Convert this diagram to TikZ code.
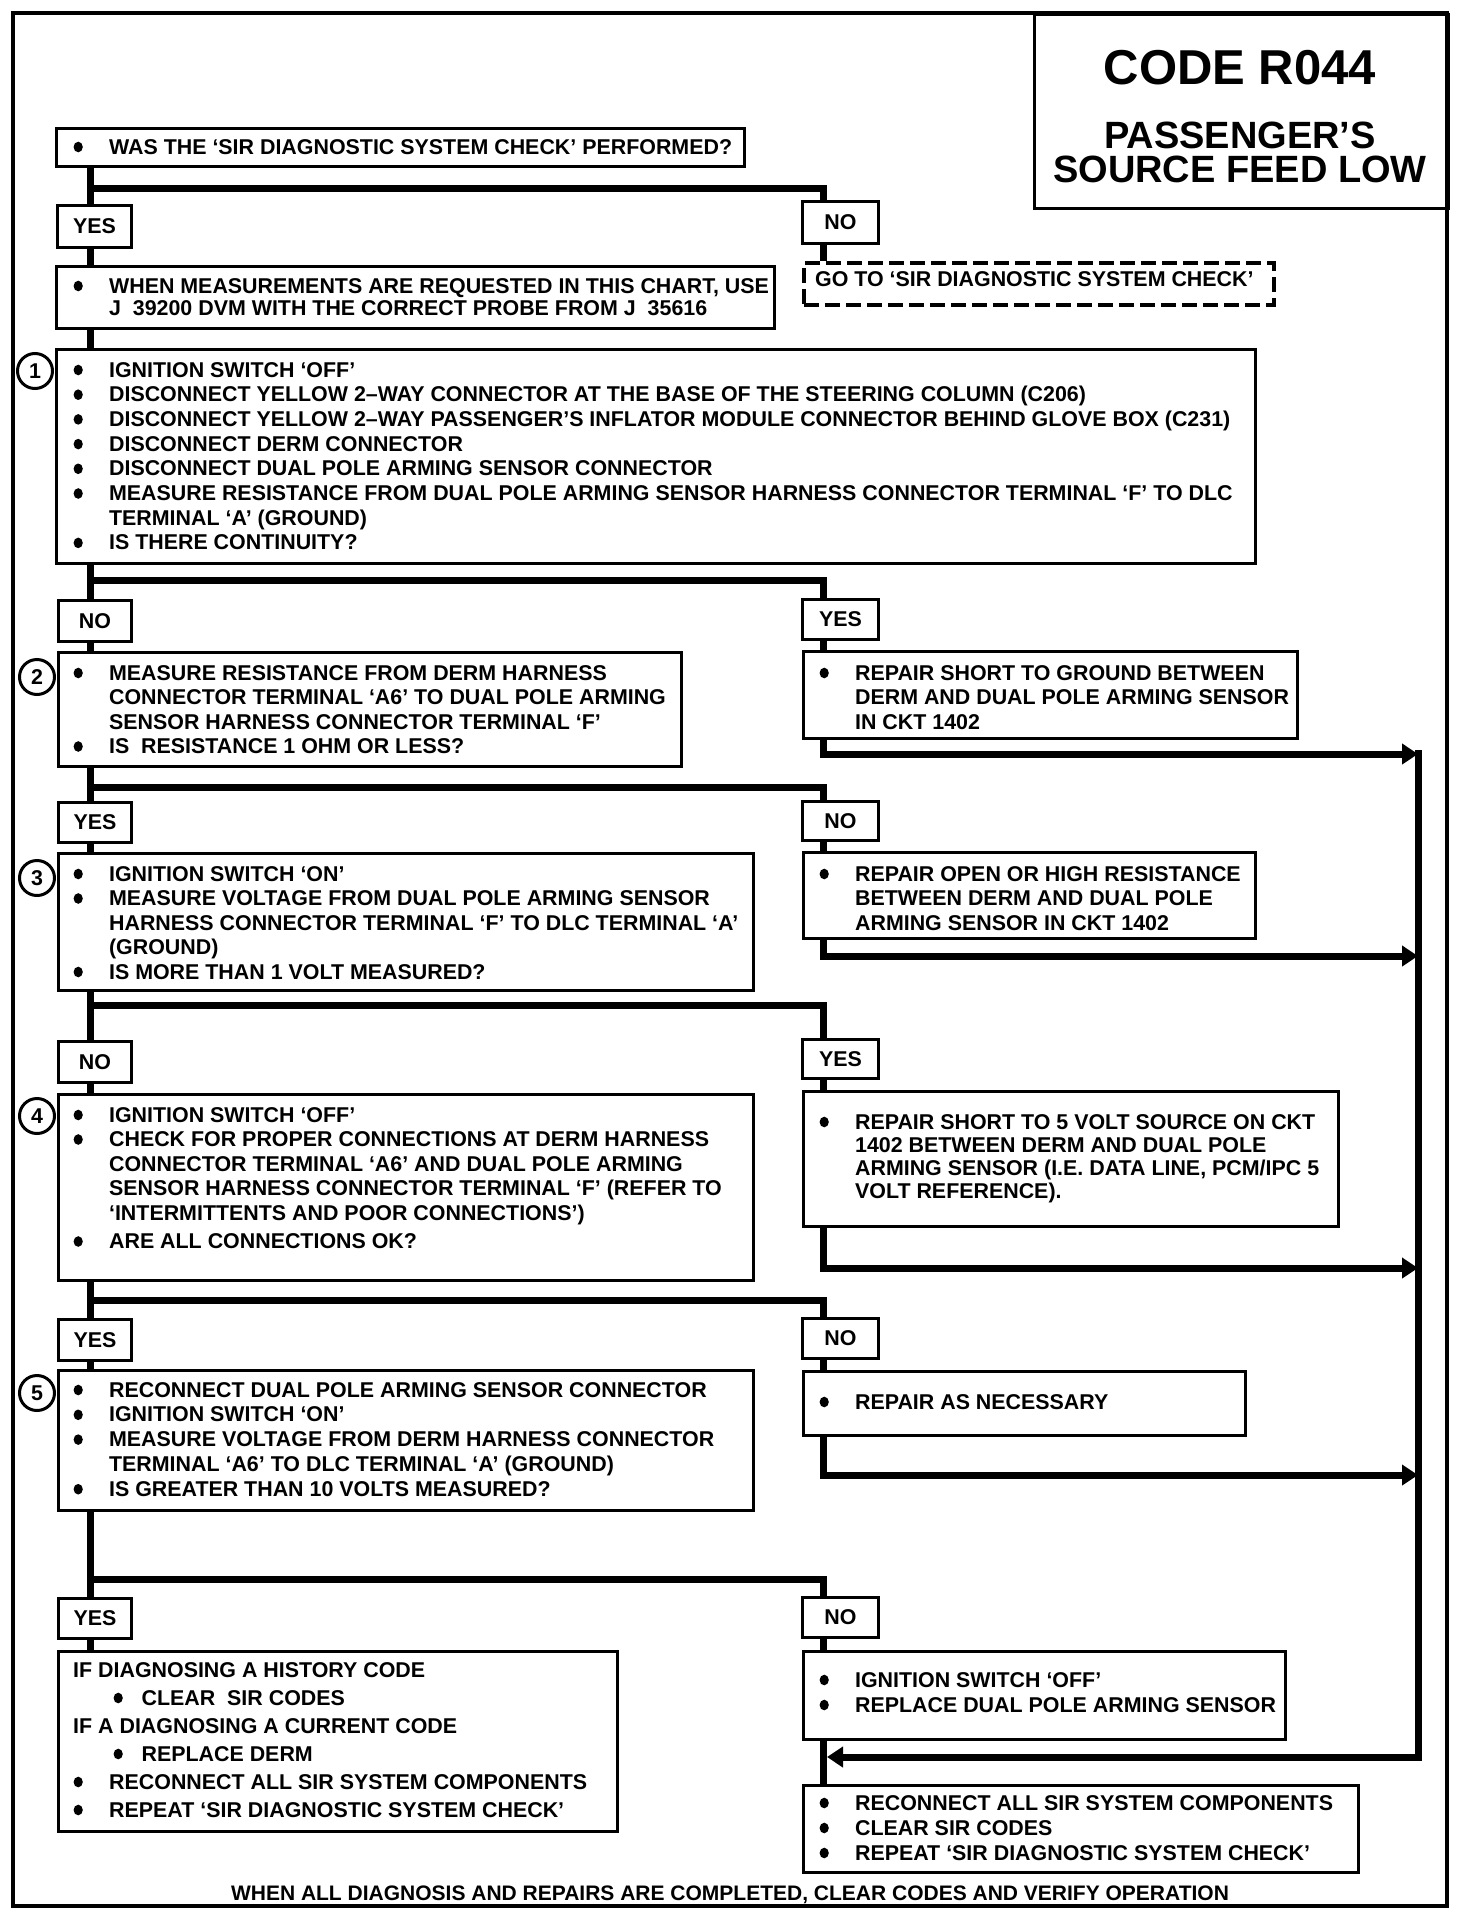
\documentclass[tikz,border=0pt]{standalone}
\usepackage{fontspec}
\setmainfont{Liberation Sans}
\usetikzlibrary{arrows.meta}
\newcommand\blt{\tikz[baseline=0pt,x=1pt,y=1pt]\fill (4.6,7) ellipse [x radius=4.6,y radius=5.3];}
\newcommand\bl{\makebox[35.5pt][l]{\blt}}
\newcommand\sbl{\hspace*{40.4pt}\makebox[28pt][l]{\blt}}
\newcommand\nbl{\hspace*{0.4pt}\makebox[35.6pt][l]{\blt}}
\newcommand\ind{\hspace*{35.5pt}}
\newcommand\bodyfont[1]{\fontsize{21.4}{#1}\selectfont\bfseries}
\begin{document}
\begin{tikzpicture}[x=1pt,y=-1pt,
  box/.style={draw, line width=3pt, inner sep=0pt, anchor=north west},
  lbl/.style={box, font=\bodyfont{21}},
  txt/.style={inner sep=0pt, anchor=base west},
  conn/.style={line width=7pt},
  arr/.style={conn, -{Triangle[length=16pt,width=20pt]}},
  num/.style={draw, circle, line width=3pt, minimum size=35pt, inner sep=0pt, font=\bodyfont{21}}]
\useasboundingbox (0,0) rectangle (1472,1916);
\fill[white] (0,0) rectangle (1472,1916);
% frame
\draw[line width=4pt] (13,13) rectangle (1447,1906);
% title
\node[box, minimum width=414pt, minimum height=194pt] (title) at (1033,13) {};
\node[inner sep=0pt, anchor=base, font=\fontsize{49}{49}\selectfont\bfseries] (tt1) at (1240,85) {CODE R044};
\node[inner sep=0pt, anchor=base, align=center, font=\fontsize{38}{34}\selectfont\bfseries] (tt2) at (1240,182) {PASSENGER’S\\SOURCE FEED LOW};
% coordinates of trunks
\coordinate (L) at (90,0);
\coordinate (R) at (823,0);
% boxes
\node[box, minimum width=688pt, minimum height=38pt] (q0) at (55,127) {};
\node[lbl, minimum width=74pt, minimum height=42pt] (yes0) at (56,204) {YES};
\node[lbl, minimum width=76pt, minimum height=42pt] (no0) at (801,200) {NO};
\node[box, minimum width=718pt, minimum height=62pt] (meas) at (55,265) {};
\node[box, dash pattern=on 15pt off 6pt, line width=3.5pt, minimum width=470pt, minimum height=42pt] (dash) at (802,261) {};
\node[box, minimum width=1199pt, minimum height=214pt] (b1) at (55,348) {};
\node[lbl, minimum width=73pt, minimum height=41pt] (no1) at (57,599) {NO};
\node[lbl, minimum width=76pt, minimum height=40pt] (yes1) at (801,598) {YES};
\node[box, minimum width=623pt, minimum height=114pt] (b2) at (57,651) {};
\node[box, minimum width=494pt, minimum height=87pt] (r1) at (802,650) {};
\node[lbl, minimum width=73pt, minimum height=40pt] (yes2) at (57,801) {YES};
\node[lbl, minimum width=76pt, minimum height=39pt] (no2) at (801,800) {NO};
\node[box, minimum width=695pt, minimum height=137pt] (b3) at (57,852) {};
\node[box, minimum width=452pt, minimum height=86pt] (r2) at (802,851) {};
\node[lbl, minimum width=73pt, minimum height=41pt] (no3) at (57,1040) {NO};
\node[lbl, minimum width=76pt, minimum height=39pt] (yes3) at (801,1038) {YES};
\node[box, minimum width=695pt, minimum height=186pt] (b4) at (57,1093) {};
\node[box, minimum width=535pt, minimum height=135pt] (r3) at (802,1090) {};
\node[lbl, minimum width=73pt, minimum height=41pt] (yes4) at (57,1318) {YES};
\node[lbl, minimum width=76pt, minimum height=40pt] (no4) at (801,1317) {NO};
\node[box, minimum width=695pt, minimum height=140pt] (b5) at (57,1369) {};
\node[box, minimum width=442pt, minimum height=64pt] (r4) at (802,1370) {};
\node[lbl, minimum width=73pt, minimum height=40pt] (yes5) at (57,1597) {YES};
\node[lbl, minimum width=76pt, minimum height=40pt] (no5) at (801,1596) {NO};
\node[box, minimum width=559pt, minimum height=180pt] (fy) at (57,1650) {};
\node[box, minimum width=482pt, minimum height=88pt] (r5) at (802,1650) {};
\node[box, minimum width=555pt, minimum height=87pt] (fn) at (802,1784) {};
% circled numbers
\node[num] (c1) at (35,371) {1};
\node[num] (c2) at (37,677) {2};
\node[num] (c3) at (37,878) {3};
\node[num] (c4) at (37,1116) {4};
\node[num] (c5) at (37,1393) {5};
% texts
\node[txt, font=\bodyfont{24.5}] (q0t) at (73.4,154) {\bl WAS THE ‘SIR DIAGNOSTIC SYSTEM CHECK’ PERFORMED?};
\node[txt, font=\bodyfont{22}] (meast) at (73.4,293) {\begin{tabular}[t]{@{}l@{}}\bl WHEN MEASUREMENTS ARE REQUESTED IN THIS CHART, USE\\ \ind J\ \ 39200 DVM WITH THE CORRECT PROBE FROM J\ \ 35616\end{tabular}};
\node[txt, font=\bodyfont{21}] (dasht) at (815,286) {GO TO ‘SIR DIAGNOSTIC SYSTEM CHECK’};
\node[txt, font=\bodyfont{24.7}] (b1t) at (73.4,377) {\begin{tabular}[t]{@{}l@{}}
\bl IGNITION SWITCH ‘OFF’\\
\bl DISCONNECT YELLOW 2–WAY CONNECTOR AT THE BASE OF THE STEERING COLUMN (C206)\\
\bl DISCONNECT YELLOW 2–WAY PASSENGER’S INFLATOR MODULE CONNECTOR BEHIND GLOVE BOX (C231)\\
\bl DISCONNECT DERM CONNECTOR\\
\bl DISCONNECT DUAL POLE ARMING SENSOR CONNECTOR\\
\bl MEASURE RESISTANCE FROM DUAL POLE ARMING SENSOR HARNESS CONNECTOR TERMINAL ‘F’ TO DLC\\
\ind TERMINAL ‘A’ (GROUND)\\
\bl IS THERE CONTINUITY?\end{tabular}};
\node[txt, font=\bodyfont{24.5}] (b2t) at (73.4,680) {\begin{tabular}[t]{@{}l@{}}
\bl MEASURE RESISTANCE FROM DERM HARNESS\\
\ind CONNECTOR TERMINAL ‘A6’ TO DUAL POLE ARMING\\
\ind SENSOR HARNESS CONNECTOR TERMINAL ‘F’\\
\bl IS\ \ RESISTANCE 1 OHM OR LESS?\end{tabular}};
\node[txt, font=\bodyfont{24.5}] (r1t) at (819.4,680) {\begin{tabular}[t]{@{}l@{}}
\bl REPAIR SHORT TO GROUND BETWEEN\\
\ind DERM AND DUAL POLE ARMING SENSOR\\
\ind IN CKT 1402\end{tabular}};
\node[txt, font=\bodyfont{24.5}] (b3t) at (73.4,881) {\begin{tabular}[t]{@{}l@{}}
\bl IGNITION SWITCH ‘ON’\\
\bl MEASURE VOLTAGE FROM DUAL POLE ARMING SENSOR\\
\ind HARNESS CONNECTOR TERMINAL ‘F’ TO DLC TERMINAL ‘A’\\
\ind (GROUND)\\
\bl IS MORE THAN 1 VOLT MEASURED?\end{tabular}};
\node[txt, font=\bodyfont{24.5}] (r2t) at (819.4,881) {\begin{tabular}[t]{@{}l@{}}
\bl REPAIR OPEN OR HIGH RESISTANCE\\
\ind BETWEEN DERM AND DUAL POLE\\
\ind ARMING SENSOR IN CKT 1402\end{tabular}};
\node[txt, font=\bodyfont{24.5}] (b4t) at (73.4,1122) {\begin{tabular}[t]{@{}l@{}}
\bl IGNITION SWITCH ‘OFF’\\
\bl CHECK FOR PROPER CONNECTIONS AT DERM HARNESS\\
\ind CONNECTOR TERMINAL ‘A6’ AND DUAL POLE ARMING\\
\ind SENSOR HARNESS CONNECTOR TERMINAL ‘F’ (REFER TO\\
\ind ‘INTERMITTENTS AND POOR CONNECTIONS’)\\[4pt]
\bl ARE ALL CONNECTIONS OK?\end{tabular}};
\node[txt, font=\bodyfont{23.3}] (r3t) at (819.4,1129) {\begin{tabular}[t]{@{}l@{}}
\bl REPAIR SHORT TO 5 VOLT SOURCE ON CKT\\
\ind 1402 BETWEEN DERM AND DUAL POLE\\
\ind ARMING SENSOR (I.E. DATA LINE, PCM/IPC 5\\
\ind VOLT REFERENCE).\end{tabular}};
\node[txt, font=\bodyfont{24.8}] (b5t) at (73.4,1397) {\begin{tabular}[t]{@{}l@{}}
\bl RECONNECT DUAL POLE ARMING SENSOR CONNECTOR\\
\bl IGNITION SWITCH ‘ON’\\
\bl MEASURE VOLTAGE FROM DERM HARNESS CONNECTOR\\
\ind TERMINAL ‘A6’ TO DLC TERMINAL ‘A’ (GROUND)\\
\bl IS GREATER THAN 10 VOLTS MEASURED?\end{tabular}};
\node[txt, font=\bodyfont{24.5}] (r4t) at (819.4,1409) {\bl REPAIR AS NECESSARY};
\node[txt, font=\bodyfont{28}] (fyt) at (73,1677) {\begin{tabular}[t]{@{}l@{}}
IF DIAGNOSING A HISTORY CODE\\
\sbl CLEAR\ \ SIR CODES\\
IF A DIAGNOSING A CURRENT CODE\\
\sbl REPLACE DERM\\
\nbl RECONNECT ALL SIR SYSTEM COMPONENTS\\
\nbl REPEAT ‘SIR DIAGNOSTIC SYSTEM CHECK’\end{tabular}};
\node[txt, font=\bodyfont{25}] (r5t) at (819.4,1687) {\begin{tabular}[t]{@{}l@{}}
\bl IGNITION SWITCH ‘OFF’\\
\bl REPLACE DUAL POLE ARMING SENSOR\end{tabular}};
\node[txt, font=\bodyfont{25}] (fnt) at (819.4,1810) {\begin{tabular}[t]{@{}l@{}}
\bl RECONNECT ALL SIR SYSTEM COMPONENTS\\
\bl CLEAR SIR CODES\\
\bl REPEAT ‘SIR DIAGNOSTIC SYSTEM CHECK’\end{tabular}};
\node[inner sep=0pt, anchor=base, font=\fontsize{21}{24}\selectfont\bfseries] (foot) at (730,1900) {WHEN ALL DIAGNOSIS AND REPAIRS ARE COMPLETED, CLEAR CODES AND VERIFY OPERATION};
% branch points
\coordinate (k0) at (90,188);
\coordinate (k1) at (90,580);
\coordinate (k2) at (90,787);
\coordinate (k3) at (90,1005);
\coordinate (k4) at (90,1300);
\coordinate (k5) at (90,1579);
\coordinate (A1) at (1418,754);
\coordinate (A2) at (1418,956);
\coordinate (A3) at (1418,1268);
\coordinate (A4) at (1418,1475);
\coordinate (RT) at (1418,750);
\coordinate (RB) at (1418,1757);
\coordinate (FA) at (827,1757);
% connectors
\draw[conn] (q0.south -| L) -- (yes0.north -| L);
\draw[conn, line join=miter] (k0) -| (no0.north -| R);
\draw[conn] (yes0.south -| L) -- (meas.north -| L);
\draw[conn] (meas.south -| L) -- (b1.north -| L);
\draw[conn] (no0.south -| R) -- (dash.north -| R);
\draw[conn] (b1.south -| L) -- (no1.north -| L);
\draw[conn, line join=miter] (k1) -| (yes1.north -| R);
\draw[conn] (no1.south -| L) -- (b2.north -| L);
\draw[conn] (yes1.south -| R) -- (r1.north -| R);
\draw[arr, line join=miter] (r1.south -| R) |- (A1);
\draw[conn] (b2.south -| L) -- (yes2.north -| L);
\draw[conn, line join=miter] (k2) -| (no2.north -| R);
\draw[conn] (yes2.south -| L) -- (b3.north -| L);
\draw[conn] (no2.south -| R) -- (r2.north -| R);
\draw[arr, line join=miter] (r2.south -| R) |- (A2);
\draw[conn] (b3.south -| L) -- (no3.north -| L);
\draw[conn, line join=miter] (k3) -| (yes3.north -| R);
\draw[conn] (no3.south -| L) -- (b4.north -| L);
\draw[conn] (yes3.south -| R) -- (r3.north -| R);
\draw[arr, line join=miter] (r3.south -| R) |- (A3);
\draw[conn] (b4.south -| L) -- (yes4.north -| L);
\draw[conn, line join=miter] (k4) -| (no4.north -| R);
\draw[conn] (yes4.south -| L) -- (b5.north -| L);
\draw[conn] (no4.south -| R) -- (r4.north -| R);
\draw[arr, line join=miter] (r4.south -| R) |- (A4);
\draw[conn] (b5.south -| L) -- (yes5.north -| L);
\draw[conn, line join=miter] (k5) -| (no5.north -| R);
\draw[conn] (yes5.south -| L) -- (fy.north -| L);
\draw[conn] (no5.south -| R) -- (r5.north -| R);
\draw[conn] (r5.south -| R) -- (fn.north -| R);
\draw[arr, line join=miter] (RT) -- (RB) -- (FA);
\end{tikzpicture}
\end{document}
